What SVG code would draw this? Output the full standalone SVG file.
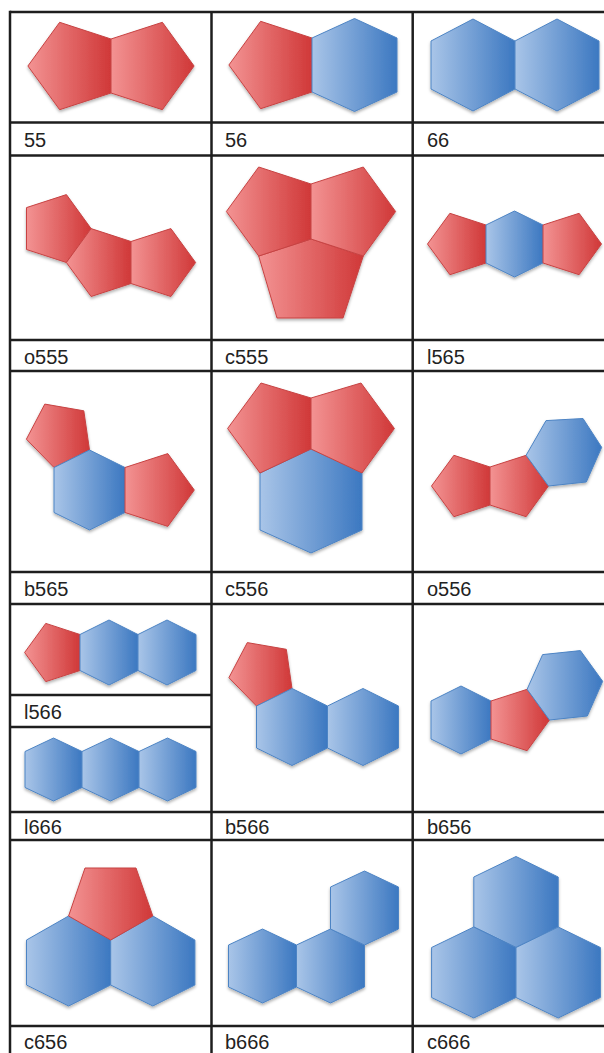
<svg xmlns="http://www.w3.org/2000/svg" width="604" height="1053" viewBox="0 0 604 1053">
<defs>
<linearGradient id="red" x1="0" y1="0" x2="1" y2="0">
<stop offset="0" stop-color="#f39393"/>
<stop offset="1" stop-color="#d03838"/>
</linearGradient>
<linearGradient id="blue" x1="0" y1="0" x2="1" y2="0">
<stop offset="0" stop-color="#a9c5e8"/>
<stop offset="1" stop-color="#3c78c1"/>
</linearGradient>
<filter id="sh" x="-10%" y="-10%" width="130%" height="130%">
<feDropShadow dx="0" dy="2" stdDeviation="1.5" flood-color="#000" flood-opacity="0.3"/>
</filter>
</defs>
<style>
.p{fill:url(#red);stroke:#c74343;stroke-width:1;stroke-linejoin:round}
.h{fill:url(#blue);stroke:#4d84c4;stroke-width:1;stroke-linejoin:round}
.cell{filter:url(#sh)}
.g{stroke:#1e1e1e;stroke-width:2.5;fill:none}
.t{font-family:"Liberation Sans",Arial,sans-serif;font-size:20px;fill:#222}
</style>
<rect width="604" height="1053" fill="#fff"/>

<g id="n55" class="cell">
<polygon class="p" points="111,93 59.64,109.69 27.9,66 59.64,22.31 111,39"/>
<polygon class="p" points="194.1,66 162.36,109.69 111,93 111,39 162.36,22.31"/>
</g>
<g id="n56" class="cell">
<polygon class="p" points="312,92 260.64,108.69 228.9,65 260.64,21.31 312,38"/>
<polygon class="h" points="354.5,18.5 397,38 397,92 354.5,111.5 312,92 312,38"/>
</g>
<g id="n66" class="cell">
<polygon class="h" points="473,19 515,41 515,89 473,111 431,89 431,41"/>
<polygon class="h" points="557,19 599,41 599,89 557,111 515,89 515,41"/>
</g>

<g id="o555" class="cell">
<polygon class="p" points="26.5,207.6 66.4,194.6 91.1,228.6 66.4,262.5 26.5,249.5"/>
<polygon class="p" points="131,283.5 91.1,296.5 66.4,262.5 91.1,228.6 131,241.5"/>
<polygon class="p" points="131,241.5 170.9,228.6 195.6,262.5 170.9,296.5 131,283.5"/>
</g>
<g id="c555" class="cell">
<polygon class="p" points="258.7,256 311,239 363.3,256 343,318 277,318"/>
<polygon class="p" points="311,239 258.7,256 226.4,211.5 258.7,167 311,184"/>
<polygon class="p" points="395.6,211.5 363.3,256 311,239 311,184 363.3,167"/>
</g>
<g id="l565" class="cell">
<polygon class="p" points="486,263 449.9,274.7 427.5,244 449.9,213.3 486,225"/>
<polygon class="h" points="514.5,211 543,225 543,263 514.5,277 486,263 486,225"/>
<polygon class="p" points="601.5,244 579.1,274.7 543,263 543,225 579.1,213.3"/>
</g>

<g id="b565" class="cell">
<polygon class="p" points="54,467.5 89.5,450 83.8,410.8 44.8,404.1 26.4,439.2"/>
<polygon class="h" points="89.5,450 125,467.5 125,512.5 89.5,530 54,512.5 54,467.5"/>
<polygon class="p" points="194.3,490 167.8,526.4 125,512.5 125,467.5 167.8,453.6"/>
</g>
<g id="c556" class="cell">
<polygon class="h" points="311,449 362,473 362,530 311,553 260,530 260,473"/>
<polygon class="p" points="227.6,428.5 261,383 311,398 311,449 260,473"/>
<polygon class="p" points="311,398 361,383 394.4,428.5 362,473 311,449"/>
</g>
<g id="o556" class="cell">
<polygon class="p" points="490,505 453.9,516.7 431.5,486 453.9,455.3 490,467"/>
<polygon class="p" points="548.5,486 526.1,516.7 490,505 490,467 526.1,455.3"/>
<polygon class="h" points="526.1,455.3 546,420.6 583,418.5 601.7,447.3 586.3,482 548.5,486"/>
</g>

<g id="l566" class="cell">
<polygon class="p" points="80,670.5 45.76,681.62 24.6,652.5 45.76,623.38 80,634.5"/>
<polygon class="h" points="109,620 138,634.5 138,670.5 109,685 80,670.5 80,634.5"/>
<polygon class="h" points="167,620 196,634.5 196,670.5 167,685 138,670.5 138,634.5"/>
</g>
<g id="l666" class="cell">
<polygon class="h" points="53.5,738 82,751.5 82,787.5 53.5,801 25,787.5 25,751.5"/>
<polygon class="h" points="110.5,738 139,751.5 139,787.5 110.5,801 82,787.5 82,751.5"/>
<polygon class="h" points="167.5,738 196,751.5 196,787.5 167.5,801 139,787.5 139,751.5"/>
</g>
<g id="b566" class="cell">
<polygon class="p" points="256.5,706 292,688.5 286.3,649.3 247.3,642.6 228.9,677.7"/>
<polygon class="h" points="292,688.5 327.5,706 327.5,748 292,765.5 256.5,748 256.5,706"/>
<polygon class="h" points="363,688.5 398.5,706 398.5,748 363,765.5 327.5,748 327.5,706"/>
</g>
<g id="b656" class="cell">
<polygon class="h" points="461,686 491,701 491,739 461,754 431,739 431,701"/>
<polygon class="p" points="549.5,720 527.1,750.7 491,739 491,701 527.1,689.3"/>
<polygon class="h" points="527.1,689.3 542.6,654.6 580.4,650.6 602.7,681.3 587.3,716 549.5,720"/>
</g>

<g id="c656" class="cell">
<polygon class="h" points="68.6,916 110.7,940 110.7,985 68.6,1006 26.5,985 26.5,940"/>
<polygon class="h" points="152.8,916 194.9,940 194.9,985 152.8,1006 110.7,985 110.7,940"/>
<polygon class="p" points="85,868 136,868 152.8,916 110.7,940 68.6,916"/>
</g>
<g id="b666" class="cell">
<polygon class="h" points="262.5,929 296.5,945 296.5,987 262.5,1003 228.5,987 228.5,945"/>
<polygon class="h" points="330.5,929 364.5,945 364.5,987 330.5,1003 296.5,987 296.5,945"/>
<polygon class="h" points="364.5,871 398.5,887 398.5,929 364.5,945 330.5,929 330.5,887"/>
</g>
<g id="c666" class="cell">
<polygon class="h" points="516,856.5 558.2,877 558.2,927 516,947.5 473.8,927 473.8,877"/>
<polygon class="h" points="473.8,927 516,947.5 516,997.5 473.8,1018 431.6,997.5 431.6,947.5"/>
<polygon class="h" points="558.2,927 600.4,947.5 600.4,997.5 558.2,1018 516,997.5 516,947.5"/>
</g>

<g id="grid" class="g">
<line x1="10" y1="12" x2="604" y2="12"/>
<line x1="10" y1="122.5" x2="604" y2="122.5"/>
<line x1="10" y1="155.5" x2="604" y2="155.5"/>
<line x1="10" y1="340" x2="604" y2="340"/>
<line x1="10" y1="371" x2="604" y2="371"/>
<line x1="10" y1="572" x2="604" y2="572"/>
<line x1="10" y1="604" x2="604" y2="604"/>
<line x1="10" y1="695" x2="211.5" y2="695"/>
<line x1="10" y1="727" x2="211.5" y2="727"/>
<line x1="10" y1="812" x2="604" y2="812"/>
<line x1="10" y1="840" x2="604" y2="840"/>
<line x1="10" y1="1026" x2="604" y2="1026"/>
<line x1="10" y1="10.75" x2="10" y2="1053"/>
<line x1="211.5" y1="12" x2="211.5" y2="1053"/>
<line x1="412.7" y1="12" x2="412.7" y2="1053"/>
</g>

<g id="labels" class="t">
<text x="24" y="147">55</text>
<text x="225" y="147">56</text>
<text x="427" y="147">66</text>
<text x="24" y="364">o555</text>
<text x="225" y="364">c555</text>
<text x="427" y="364">l565</text>
<text x="24" y="596">b565</text>
<text x="225" y="596">c556</text>
<text x="427" y="596">o556</text>
<text x="24" y="719">l566</text>
<text x="24" y="834">l666</text>
<text x="225" y="834">b566</text>
<text x="427" y="834">b656</text>
<text x="24" y="1049">c656</text>
<text x="225" y="1049">b666</text>
<text x="427" y="1049">c666</text>
</g>
</svg>
